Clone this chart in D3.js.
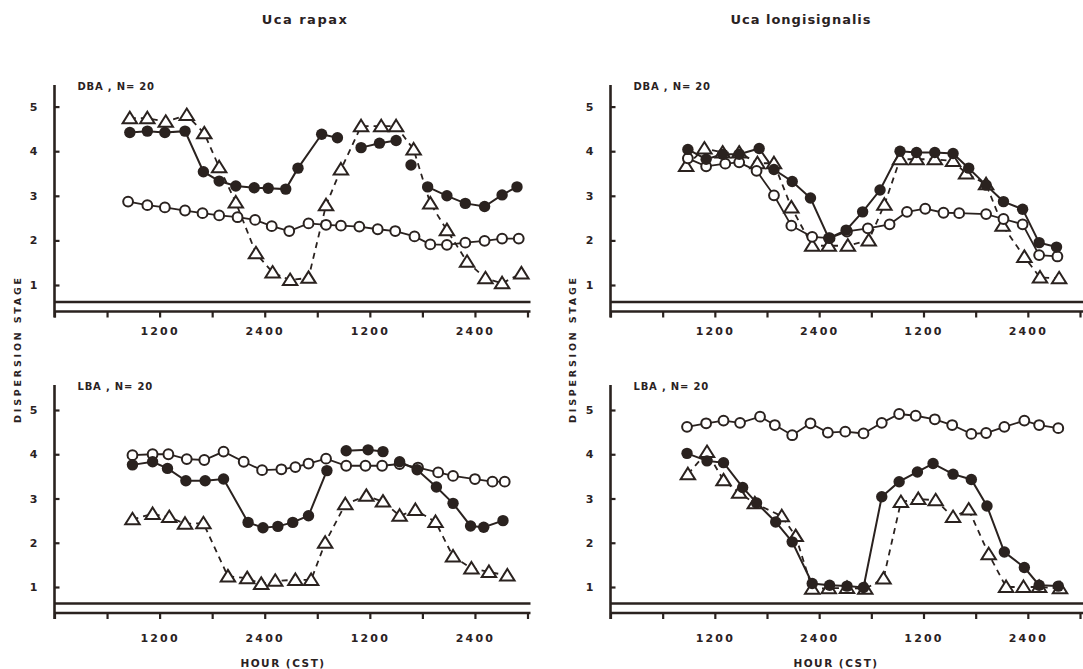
<!DOCTYPE html>
<html>
<head>
<meta charset="utf-8">
<script src="https://cdn.jsdelivr.net/npm/d3@7"></script>
<style>
body { margin: 0; background: #fff; }
text { font-family: "DejaVu Sans", sans-serif; font-weight: bold; fill: #2a221f; }
</style>
</head>
<body>
<div id="chart"></div>
<script>
// axis ticks
const hourTicks = [0, 6, 12, 18, 24, 30, 36, 42, 48, 54];
const hourLabels = ["", "", "1200", "", "2400", "", "1200", "", "2400", ""];
const stageTicks = [1, 2, 3, 4, 5];

// Uca rapax, DBA
const rapaxDbaOpenHours = [8.4, 10.6, 12.6, 14.9, 16.9, 18.8, 20.9, 22.9, 24.8, 26.8, 29.0, 31.0, 32.7, 34.8, 36.9, 38.9, 41.1, 42.9, 44.8, 46.9, 49.1, 51.1, 53.0];
const rapaxDbaOpen = [2.87, 2.79, 2.74, 2.67, 2.61, 2.56, 2.52, 2.46, 2.32, 2.21, 2.38, 2.35, 2.33, 2.31, 2.25, 2.21, 2.09, 1.91, 1.9, 1.95, 1.99, 2.04, 2.04];
const rapaxDbaFilledHours = [8.6, 10.6, 12.6, 14.9, 17.0, 18.8, 20.7, 22.8, 24.4, 26.4, 27.8, 30.5, 32.3, 33.5, 35.0, 37.1, 39.0, 40.0, 40.7, 41.5, 42.6, 44.8, 46.9, 49.1, 51.1, 52.8];
const rapaxDbaFilled = [4.42, 4.45, 4.42, 4.45, 3.54, 3.33, 3.22, 3.18, 3.17, 3.15, 3.62, 4.38, 4.30, null, 4.08, 4.18, 4.24, null, 3.69, null, 3.20, 3.0, 2.83, 2.76, 3.02, 3.2];
const rapaxDbaTriHours = [8.6, 10.6, 12.7, 15.1, 17.1, 18.8, 20.7, 23.0, 24.9, 26.9, 29.0, 31.0, 32.7, 35.0, 37.3, 39.0, 41.0, 42.9, 44.8, 47.1, 49.2, 51.1, 53.3];
const rapaxDbaTri = [4.74, 4.74, 4.66, 4.81, 4.4, 3.64, 2.85, 1.71, 1.28, 1.11, 1.16, 2.79, 3.59, 4.56, 4.56, 4.56, 4.04, 2.83, 2.23, 1.52, 1.15, 1.04, 1.26];

// Uca longisignalis, DBA
const longiDbaOpenHours = [8.9, 11.0, 13.2, 14.8, 16.8, 18.8, 20.8, 23.2, 25.2, 27.2, 29.6, 32.1, 34.1, 36.2, 38.3, 40.1, 43.2, 45.2, 47.4, 49.3, 51.4];
const longiDbaOpen = [3.84, 3.66, 3.72, 3.75, 3.56, 3.01, 2.33, 2.08, 2.05, 2.2, 2.27, 2.36, 2.64, 2.71, 2.62, 2.61, 2.59, 2.48, 2.36, 1.67, 1.64];
const longiDbaFilledHours = [8.9, 11.0, 12.9, 14.8, 17.1, 18.8, 20.9, 23.0, 25.1, 27.1, 29.0, 31.0, 33.3, 35.2, 37.3, 39.4, 41.2, 43.2, 45.2, 47.4, 49.3, 51.3];
const longiDbaFilled = [4.04, 3.82, 3.93, 3.93, 4.06, 3.59, 3.32, 2.95, 2.05, 2.23, 2.64, 3.13, 4.0, 3.97, 3.97, 3.95, 3.62, 3.24, 2.87, 2.70, 1.95, 1.85];
const longiDbaTriHours = [8.7, 10.8, 12.9, 14.8, 16.9, 18.8, 20.8, 23.2, 25.1, 27.3, 29.7, 31.5, 33.3, 35.2, 37.3, 39.4, 40.9, 43.2, 45.1, 47.6, 49.4, 51.6];
const longiDbaTri = [3.67, 4.06, 3.97, 3.97, 3.73, 3.73, 2.74, 1.88, 1.88, 1.88, 2.0, 2.8, 3.82, 3.82, 3.82, 3.78, 3.5, 3.26, 2.33, 1.63, 1.17, 1.15];

// Uca rapax, LBA
const rapaxLbaOpenHours = [8.9, 11.2, 13.0, 15.1, 17.1, 19.3, 21.6, 23.7, 25.9, 27.5, 29.0, 31.0, 33.3, 35.5, 37.4, 39.4, 41.5, 43.8, 45.5, 48.0, 50.0, 51.4];
const rapaxLbaOpen = [3.98, 4.0, 4.0, 3.89, 3.87, 4.06, 3.83, 3.64, 3.66, 3.71, 3.79, 3.9, 3.74, 3.74, 3.74, 3.78, 3.7, 3.59, 3.51, 3.44, 3.38, 3.38];
const rapaxLbaFilledHours = [8.9, 11.2, 12.9, 15.0, 17.2, 19.3, 22.1, 23.8, 25.5, 27.2, 29.0, 31.1, 32.2, 33.3, 35.8, 37.5, 38.5, 39.4, 41.4, 43.6, 45.5, 47.5, 49.0, 51.2];
const rapaxLbaFilled = [3.76, 3.83, 3.68, 3.40, 3.40, 3.44, 2.46, 2.34, 2.37, 2.46, 2.61, 3.63, null, 4.08, 4.10, 4.06, null, 3.83, 3.65, 3.26, 2.89, 2.38, 2.35, 2.50];
const rapaxLbaTriHours = [8.9, 11.2, 13.1, 14.9, 17.0, 19.8, 22.0, 23.6, 25.2, 27.5, 29.3, 30.9, 33.2, 35.6, 37.5, 39.4, 41.2, 43.5, 45.5, 47.6, 49.6, 51.7];
const rapaxLbaTri = [2.53, 2.65, 2.58, 2.43, 2.44, 1.24, 1.20, 1.07, 1.14, 1.16, 1.16, 2.0, 2.87, 3.06, 2.93, 2.61, 2.74, 2.47, 1.69, 1.42, 1.34, 1.26];

// Uca longisignalis, LBA
const longiLbaOpenHours = [8.8, 11.0, 13.0, 14.9, 17.2, 18.9, 20.9, 23.0, 25.0, 27.0, 29.1, 31.2, 33.2, 35.1, 37.3, 39.3, 41.5, 43.2, 45.3, 47.6, 49.3, 51.5];
const longiLbaOpen = [4.62, 4.70, 4.76, 4.71, 4.85, 4.66, 4.43, 4.70, 4.49, 4.51, 4.47, 4.71, 4.91, 4.87, 4.79, 4.66, 4.46, 4.48, 4.62, 4.76, 4.66, 4.59];
const longiLbaFilledHours = [8.8, 11.1, 13.0, 15.2, 16.8, 19.0, 20.9, 23.2, 25.2, 27.2, 29.1, 31.2, 33.2, 35.3, 37.1, 39.4, 41.5, 43.3, 45.3, 47.6, 49.3, 51.5];
const longiLbaFilled = [4.02, 3.85, 3.81, 3.25, 2.90, 2.47, 2.02, 1.08, 1.04, 1.02, 0.99, 3.04, 3.38, 3.60, 3.79, 3.55, 3.43, 2.83, 1.79, 1.44, 1.04, 1.02];
const longiLbaTriHours = [8.9, 11.1, 13.0, 14.8, 16.6, 19.7, 21.3, 23.2, 25.1, 27.2, 29.3, 31.4, 33.4, 35.4, 37.4, 39.4, 41.2, 43.5, 45.5, 47.5, 49.3, 51.7];
const longiLbaTri = [3.55, 4.05, 3.41, 3.13, 2.89, 2.60, 2.15, 0.96, 0.97, 0.98, 0.96, 1.19, 2.92, 2.99, 2.96, 2.58, 2.75, 1.74, 1.0, 1.0, 1.0, 0.97];

const ink = "#2a221f";
const width = 1083, height = 669;

const svg = d3.select("#chart").append("svg")
    .attr("width", width)
    .attr("height", height)
    .style("background", "#fff");

// panel frames
const panels = [
    {left: 54.5, right: 527.5, top: 85, y5: 106.6, y1: 285, base: 311.5, labelY: 16, tag: "DBA , N= 20",
     open: [rapaxDbaOpenHours, rapaxDbaOpen], filled: [rapaxDbaFilledHours, rapaxDbaFilled], tri: [rapaxDbaTriHours, rapaxDbaTri]},
    {left: 610.5, right: 1080, top: 85, y5: 106.6, y1: 285, base: 311.5, labelY: 16, tag: "DBA , N= 20",
     open: [longiDbaOpenHours, longiDbaOpen], filled: [longiDbaFilledHours, longiDbaFilled], tri: [longiDbaTriHours, longiDbaTri]},
    {left: 54.5, right: 527.5, top: 385, y5: 410, y1: 587, base: 613, labelY: 21, tag: "LBA , N= 20",
     open: [rapaxLbaOpenHours, rapaxLbaOpen], filled: [rapaxLbaFilledHours, rapaxLbaFilled], tri: [rapaxLbaTriHours, rapaxLbaTri]},
    {left: 610.5, right: 1080, top: 385, y5: 410, y1: 587, base: 613, labelY: 21, tag: "LBA , N= 20",
     open: [longiLbaOpenHours, longiLbaOpen], filled: [longiLbaFilledHours, longiLbaFilled], tri: [longiLbaTriHours, longiLbaTri]}
];

function toPoints(pair) {
    return pair[0].map((h, i) => ({h: h, v: pair[1][i]}));
}

const triPath = "M0,-6.5L7.2,5L-7.2,5Z";

panels.forEach(p => drawPanel(p));

function drawPanel(p) {
    let x = d3.scaleLinear().domain([0, 54]).range([p.left, p.right]);
    let y = d3.scaleLinear().domain([1, 5]).range([p.y1, p.y5]);
    let g = svg.append("g");

    // y axis, ticks pointing inward
    let yAxis = d3.axisLeft(y)
        .tickValues(stageTicks)
        .tickSize(-5)
        .tickPadding(17)
        .tickFormat(d3.format("d"));
    let ya = g.append("g")
        .attr("transform", "translate(" + p.left + ",0)")
        .call(yAxis);
    ya.select(".domain").remove();
    ya.selectAll("line").attr("stroke", ink).attr("stroke-width", 2.2);
    ya.selectAll("text").style("font-size", "11px").attr("fill", ink);

    // x axis on the lower of the two baselines
    let xAxis = d3.axisBottom(x)
        .tickValues(hourTicks)
        .tickSize(6)
        .tickPadding(p.labelY - 6)
        .tickFormat((d, i) => hourLabels[i]);
    let xa = g.append("g")
        .attr("transform", "translate(0," + p.base + ")")
        .call(xAxis);
    xa.select(".domain").remove();
    xa.selectAll("line").attr("stroke", ink).attr("stroke-width", 2.2);
    xa.selectAll("text").style("font-size", "11px").style("letter-spacing", "2.2px").attr("fill", ink);

    // double baseline
    g.append("line")
        .attr("x1", p.left).attr("x2", p.right + 3)
        .attr("y1", p.base).attr("y2", p.base)
        .attr("stroke", ink).attr("stroke-width", 2.4);
    g.append("line")
        .attr("x1", p.left).attr("x2", p.right + 3)
        .attr("y1", p.base - 9.5).attr("y2", p.base - 9.5)
        .attr("stroke", ink).attr("stroke-width", 2.4);

    // vertical axis line
    g.append("line")
        .attr("x1", p.left).attr("x2", p.left)
        .attr("y1", p.top).attr("y2", p.base + 6)
        .attr("stroke", ink).attr("stroke-width", 2.6);

    g.append("text")
        .attr("x", p.left + 23)
        .attr("y", p.top + 5)
        .style("font-size", "10px")
        .style("letter-spacing", "0.8px")
        .text(p.tag);

    let line = d3.line()
        .defined(d => d.v !== null)
        .x(d => x(d.h))
        .y(d => y(d.v));

    let openPts = toPoints(p.open);
    let filledPts = toPoints(p.filled);
    let triPts = toPoints(p.tri);

    g.append("path").datum(triPts)
        .attr("d", line)
        .attr("fill", "none")
        .attr("stroke", ink)
        .attr("stroke-width", 1.8)
        .attr("stroke-dasharray", "6,5");
    g.append("path").datum(openPts)
        .attr("d", line)
        .attr("fill", "none")
        .attr("stroke", ink)
        .attr("stroke-width", 1.8);
    g.append("path").datum(filledPts)
        .attr("d", line)
        .attr("fill", "none")
        .attr("stroke", ink)
        .attr("stroke-width", 2);

    g.selectAll(".tri").data(triPts.filter(d => d.v !== null))
        .enter().append("path")
        .attr("class", "tri")
        .attr("d", triPath)
        .attr("transform", d => "translate(" + x(d.h) + "," + y(d.v) + ")")
        .attr("fill", "#fff")
        .attr("stroke", ink)
        .attr("stroke-width", 2);

    g.selectAll(".open").data(openPts.filter(d => d.v !== null))
        .enter().append("circle")
        .attr("class", "open")
        .attr("cx", d => x(d.h))
        .attr("cy", d => y(d.v))
        .attr("r", 4.9)
        .attr("fill", "#fff")
        .attr("stroke", ink)
        .attr("stroke-width", 2);

    g.selectAll(".filled").data(filledPts.filter(d => d.v !== null))
        .enter().append("circle")
        .attr("class", "filled")
        .attr("cx", d => x(d.h))
        .attr("cy", d => y(d.v))
        .attr("r", 5.7)
        .attr("fill", ink);
}

// titles and shared labels
svg.append("text")
    .attr("x", 305).attr("y", 24)
    .attr("text-anchor", "middle")
    .style("font-size", "13px")
    .style("letter-spacing", "1.5px")
    .text("Uca rapax");
svg.append("text")
    .attr("x", 801).attr("y", 24)
    .attr("text-anchor", "middle")
    .style("font-size", "13px")
    .style("letter-spacing", "1px")
    .text("Uca longisignalis");

[283, 836].forEach(cx => {
    svg.append("text")
        .attr("x", cx).attr("y", 667)
        .attr("text-anchor", "middle")
        .style("font-size", "10.5px")
        .style("letter-spacing", "1.5px")
        .text("HOUR (CST)");
});

[21, 576].forEach(cx => {
    svg.append("text")
        .attr("transform", "translate(" + cx + ",349) rotate(-90)")
        .attr("text-anchor", "middle")
        .style("font-size", "9.5px")
        .style("letter-spacing", "2.8px")
        .text("DISPERSION STAGE");
});
</script>
</body>
</html>
